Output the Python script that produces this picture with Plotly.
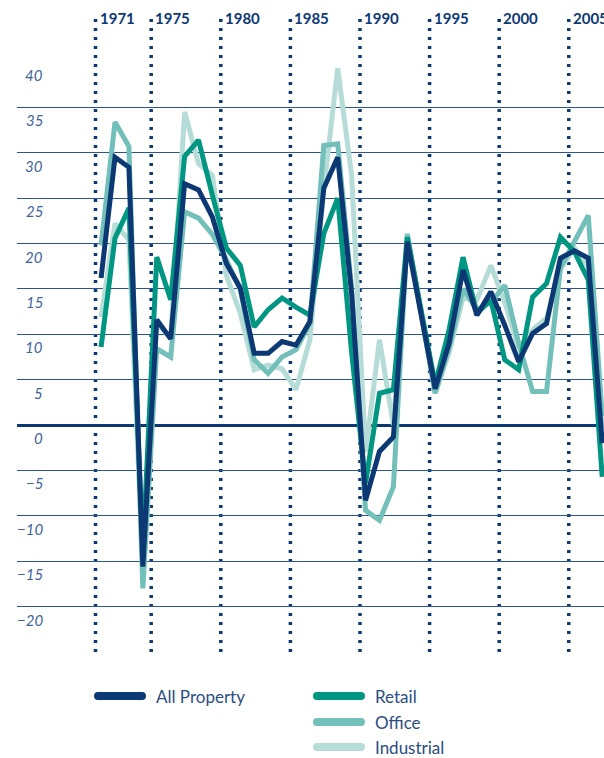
import plotly.graph_objects as go

# Annual total returns (%) by sector
years = list(range(1971, 2008))
all_property = [16.2, 29.5, 28.4, -15.6, 11.6, 9.5, 26.6, 25.9, 22.9, 17.8,
                15.1, 7.9, 7.9, 9.2, 8.8, 11.4, 26.1, 29.5, 14.5, -8.3,
                -2.9, -1.3, 20.2, 12.0, 4.0, 9.0, 17.1, 12.1, 14.7, 11.0,
                7.0, 10.1, 11.2, 18.4, 19.2, 18.4, -2.0]
retail = [8.6, 20.6, 23.9, -14.0, 18.5, 13.8, 29.6, 31.4, 25.3, 19.5,
          17.6, 10.8, 12.7, 14.0, 13.0, 12.1, 21.1, 25.0, 8.0, -6.4,
          3.5, 3.9, 20.7, 12.6, 4.5, 10.5, 18.5, 12.3, 13.8, 7.2,
          6.1, 14.1, 15.6, 20.7, 19.1, 16.0, -5.7]
office = [19.8, 33.4, 30.7, -18.0, 8.4, 7.5, 23.5, 22.8, 21.0, 18.2,
          14.9, 7.2, 5.7, 7.5, 8.3, 11.2, 30.8, 31.0, 15.0, -9.4,
          -10.5, -6.8, 21.0, 12.0, 3.5, 8.5, 15.0, 12.7, 13.5, 15.4,
          9.0, 3.7, 3.7, 17.3, 20.2, 23.1, 1.0]
industrial = [11.9, 22.2, 20.4, -16.0, 11.2, 9.6, 34.5, 28.8, 27.5, 16.5,
              12.3, 6.1, 6.6, 6.2, 3.9, 9.4, 26.0, 39.3, 27.5, -3.0,
              9.4, 0.0, 21.1, 12.5, 3.5, 8.0, 14.0, 13.8, 17.6, 13.5,
              8.5, 10.5, 11.8, 17.2, 19.5, 17.5, -0.5]

series_names = ["All Property", "Retail", "Office", "Industrial"]
marker_years = [1971, 1975, 1980, 1985, 1990, 1995, 2000, 2005]
label_ticks = [40, 35, 30, 25, 20, 15, 10, 5, 0, -5, -10, -15, -20]
grid_ticks = [40, 35, 30, 25, 20, 15, 10, 5, 0, -5, -10, -15, -20, -25]

# Styling
NAVY = "#0c3873"
COLORS = {"All Property": NAVY, "Retail": "#009681",
          "Office": "#72c0b9", "Industrial": "#b6dcd7"}
GRID = "#2a5590"
LABEL = "#41639a"
LEGEND_TEXT = "#2c4d84"
FONT = "Lato"

W, H = 604, 758
M_L, M_R, M_T, M_B = 17, 0, 62, 106
PLOT_W = W - M_L - M_R
PLOT_H = H - M_T - M_B
PX_PER_YEAR = 13.92
X_LEFT = 1972 - (115 - M_L) / PX_PER_YEAR
X_RIGHT = X_LEFT + PLOT_W / PX_PER_YEAR


def paper_x(px):
    return (px - M_L) / PLOT_W


def paper_y(py):
    return (H - M_B - py) / PLOT_H


series = {"All Property": all_property, "Retail": retail,
          "Office": office, "Industrial": industrial}

fig = go.Figure()
for name in reversed(series_names):
    fig.add_trace(go.Scatter(
        x=years, y=series[name], mode="lines", name=name,
        line=dict(color=COLORS[name], width=5),
        showlegend=False, hoverinfo="skip"))

shapes = []
annotations = []

# Dotted year markers reaching above the plot
for yr in marker_years:
    shapes.append(dict(type="line", xref="x", yref="paper",
                       x0=yr - 0.4, x1=yr - 0.4, y0=0, y1=paper_y(13),
                       line=dict(color=NAVY, width=3.5, dash="3px,6px"),
                       layer="between"))
    annotations.append(dict(xref="x", yref="paper", x=yr - 0.4, y=paper_y(18),
                            xanchor="left", yanchor="middle", xshift=2,
                            text=str(yr), showarrow=False,
                            font=dict(family=FONT, size=15, color=NAVY,
                                      weight="bold")))

# Value labels sitting under each grid line
for v in label_ticks:
    txt = str(v) if v >= 0 else "\u2212" + str(-v)
    annotations.append(dict(xref="paper", yref="y", x=paper_x(45), y=v,
                            xanchor="right", yanchor="middle", yshift=-13,
                            text=txt, showarrow=False,
                            font=dict(family=FONT, size=15, color=LABEL,
                                      style="italic")))

# Legend: swatches with rounded ends, then names
legend_pos = {"All Property": (94, 696), "Retail": (313, 696),
              "Office": (313, 722), "Industrial": (313, 747)}
SW_LEN, SW_W = 52, 8
for name in series_names:
    x0, yc = legend_pos[name]
    col = COLORS[name]
    r = SW_W / 2
    shapes.append(dict(type="line", xref="paper", yref="paper",
                       x0=paper_x(x0 + r), x1=paper_x(x0 + SW_LEN - r),
                       y0=paper_y(yc), y1=paper_y(yc),
                       line=dict(color=col, width=SW_W)))
    for cx in (x0 + r, x0 + SW_LEN - r):
        shapes.append(dict(type="circle", xref="paper", yref="paper",
                           xsizemode="pixel", ysizemode="pixel",
                           xanchor=paper_x(cx), yanchor=paper_y(yc),
                           x0=-r, x1=r, y0=-r, y1=r,
                           fillcolor=col, line=dict(width=0)))
    annotations.append(dict(xref="paper", yref="paper",
                            x=paper_x(x0 + SW_LEN + 8), y=paper_y(yc),
                            xanchor="left", yanchor="middle",
                            text=name, showarrow=False,
                            font=dict(family=FONT, size=17,
                                      color=LEGEND_TEXT)))

fig.update_layout(
    width=W, height=H,
    margin=dict(l=M_L, r=M_R, t=M_T, b=M_B, pad=0),
    paper_bgcolor="white", plot_bgcolor="white",
    showlegend=False,
    xaxis=dict(range=[X_LEFT, X_RIGHT], showgrid=False, zeroline=False,
               showticklabels=False, ticks="", showline=False, fixedrange=True),
    yaxis=dict(range=[-25, 40], tickvals=grid_ticks, showgrid=True,
               gridcolor=GRID, gridwidth=1.3, zeroline=True,
               zerolinecolor=NAVY, zerolinewidth=3,
               showticklabels=False, ticks="", showline=False,
               fixedrange=True),
    shapes=shapes, annotations=annotations,
)

fig.write_html("out.html")
